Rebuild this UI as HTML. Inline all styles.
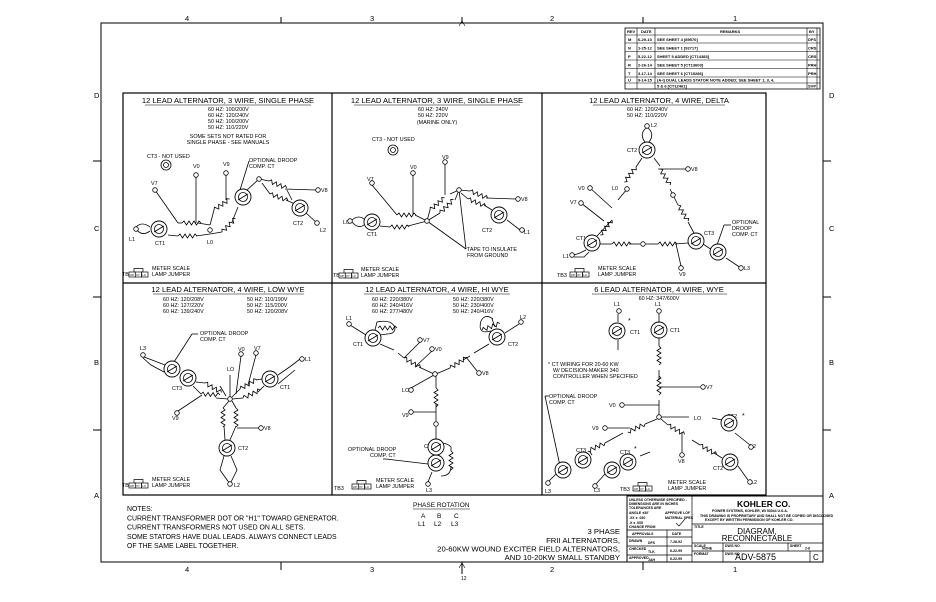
<!DOCTYPE html>
<html><head><meta charset="utf-8"><style>
html,body{margin:0;padding:0;background:#fff}
svg{display:block}
text{font-family:"Liberation Sans",sans-serif;fill:#000}
.t{font-size:7.6px}
.s{font-size:5.4px}
.n{font-size:7.5px}
</style></head><body>
<svg width="936" height="602" viewBox="0 0 936 602" xmlns="http://www.w3.org/2000/svg">
<defs>
<path id="coil" d="M0,0 l2,-2 l2.5,4 l2.5,-4 l2.5,4 l2.5,-4 l2.5,4 l2.5,-4 l2,2" fill="none" stroke="#000" stroke-width="0.8"/>
<g id="ct"><circle r="8" fill="#fff" stroke="#000" stroke-width="0.9"/><circle r="4.5" fill="none" stroke="#000" stroke-width="0.8"/><line x1="-5" y1="3" x2="5" y2="-3" stroke="#000" stroke-width="0.8"/></g>
<g id="tm"><circle r="2.3" fill="#fff" stroke="#000" stroke-width="0.8"/></g>
<g id="tb3"><rect x="0" y="0" width="6.3" height="5" fill="#fff" stroke="#000" stroke-width="0.7"/><rect x="6.3" y="0" width="6.3" height="5" fill="#fff" stroke="#000" stroke-width="0.7"/><rect x="12.6" y="0" width="6.4" height="5" fill="#fff" stroke="#000" stroke-width="0.7"/><polyline points="5,0 5,-3.5 14,-3.5 14,0" fill="none" stroke="#000" stroke-width="0.7"/><text x="0.8" y="3.9" style="font-size:3px">UP</text><text x="7" y="3.9" style="font-size:3px">V7</text><text x="13.3" y="3.9" style="font-size:3px">L0</text></g>
</defs>
<g fill="none" stroke="#000">
<rect x="101" y="23" width="722" height="539" stroke-width="1"/>
<line x1="281" y1="17" x2="281" y2="23"/><line x1="643" y1="17" x2="643" y2="23"/>
<line x1="281" y1="562" x2="281" y2="570"/><line x1="643" y1="562" x2="643" y2="570"/><line x1="462" y1="562" x2="462" y2="574"/><line x1="462" y1="17" x2="462" y2="23"/>
<line x1="93" y1="161" x2="101" y2="161"/><line x1="93" y1="297" x2="101" y2="297"/><line x1="93" y1="430" x2="101" y2="430"/>
<line x1="823" y1="161" x2="831" y2="161"/><line x1="823" y1="297" x2="831" y2="297"/><line x1="823" y1="430" x2="831" y2="430"/>
<rect x="123" y="93" width="643" height="402" stroke-width="1.2"/>
<line x1="332" y1="93" x2="332" y2="495" stroke-width="1.2"/>
<line x1="542" y1="93" x2="542" y2="495" stroke-width="1.2"/>
<line x1="123" y1="283" x2="766" y2="283" stroke-width="1.2"/>
<rect x="625" y="28" width="195" height="61" stroke-width="0.8"/>
<g stroke-width="0.6">
<line x1="625" y1="35" x2="820" y2="35"/><line x1="625" y1="43" x2="820" y2="43"/><line x1="625" y1="51.5" x2="820" y2="51.5"/><line x1="625" y1="60" x2="820" y2="60"/><line x1="625" y1="68.5" x2="820" y2="68.5"/><line x1="625" y1="77" x2="820" y2="77"/><line x1="625" y1="83" x2="820" y2="83"/>
<line x1="637" y1="28" x2="637" y2="89"/><line x1="655" y1="28" x2="655" y2="89"/><line x1="807" y1="28" x2="807" y2="89"/><line x1="817" y1="28" x2="817" y2="89"/>
</g>
<rect x="627" y="496" width="196" height="66" stroke-width="1"/>
<g stroke-width="0.7">
<line x1="692" y1="496" x2="692" y2="562"/>
<line x1="627" y1="530" x2="692" y2="530"/><line x1="627" y1="537" x2="692" y2="537"/><line x1="627" y1="546" x2="692" y2="546"/><line x1="627" y1="555" x2="692" y2="555"/><line x1="667" y1="530" x2="667" y2="562"/>
<line x1="692" y1="524" x2="823" y2="524"/><line x1="692" y1="543" x2="823" y2="543"/><line x1="692" y1="551" x2="823" y2="551"/>
<line x1="723" y1="543" x2="723" y2="562"/><line x1="788" y1="543" x2="788" y2="551"/><line x1="810" y1="551" x2="810" y2="562"/>
</g>
</g>
<g class="n">
<text x="185" y="21">4</text><text x="370" y="21">3</text><text x="550" y="21">2</text><text x="733" y="21">1</text>
<text x="185" y="572">4</text><text x="370" y="572">3</text><text x="550" y="572">2</text><text x="733" y="572">1</text>
<text x="94" y="98">D</text><text x="94" y="231">C</text><text x="94" y="365">B</text><text x="94" y="498">A</text>
<text x="829" y="98">D</text><text x="829" y="231">C</text><text x="829" y="365">B</text><text x="829" y="498">A</text>
</g>
<text x="461" y="580" style="font-size:5px" fill="#c60">12</text>
<path d="M459,26 l3,-5 l3,5" fill="none" stroke="#000" stroke-width="0.6"/>
<path d="M459,568 l3,-5 l3,5" fill="none" stroke="#000" stroke-width="0.6"/>
<g style="font-size:4px" font-weight="bold">
<text x="627" y="33">REV</text><text x="641" y="33">DATE</text><text x="720" y="33">REMARKS</text><text x="809" y="33">BY</text>
<text x="628" y="41">M</text><text x="638" y="41">6-29-10</text><text x="657" y="41">SEE SHEET 4 [89570]</text><text x="808" y="41">DFS</text>
<text x="628" y="49.5">N</text><text x="638" y="49.5">1-25-12</text><text x="657" y="49.5">SEE SHEET 1 [92717]</text><text x="808" y="49.5">CRS</text>
<text x="628" y="58">P</text><text x="638" y="58">5-22-12</text><text x="657" y="58">SHEET 5 ADDED [CT14383]</text><text x="808" y="58">CRS</text>
<text x="628" y="66.5">R</text><text x="638" y="66.5">2-26-14</text><text x="657" y="66.5">SEE SHEET 5 [CT13603]</text><text x="808" y="66.5">PRH</text>
<text x="628" y="75">T</text><text x="638" y="75">3-17-14</text><text x="657" y="75">SEE SHEET 6 [CT15286]</text><text x="808" y="75">PRH</text>
<text x="628" y="81.5">U</text><text x="638" y="81.5">9-14-15</text><text x="657" y="81.5">(A-I) DUAL LEADS STATOR NOTE ADDED; SEE SHEET 1, 3, 4,</text>
<text x="657" y="87.5">5 &amp; 6 [CT12461]</text><text x="808" y="87.5">SVP</text>
</g>
<g style="font-size:3.5px" font-weight="bold">
<text x="629" y="501">UNLESS OTHERWISE SPECIFIED -</text><text x="629" y="505">DIMENSIONS ARE IN INCHES</text><text x="629" y="509">TOLERANCES ARE</text>
<text x="629" y="514">ANGLE ±30'</text><text x="665" y="514">APPROVE LOF</text><text x="629" y="519">.XX ± .030</text><text x="665" y="519">MATERIAL SPEC</text>
<text x="629" y="524">.X ± .005</text><text x="629" y="528">CHANGE FROM</text>
<text x="632" y="535">APPROVALS</text><text x="672" y="535">DATE</text>
<text x="629" y="542">DRAWN</text><text x="648" y="544">DFS</text><text x="670" y="543">7-28-92</text>
<text x="629" y="550">CHECKED</text><text x="648" y="553">TLK</text><text x="670" y="552">6-22-99</text>
<text x="629" y="559">APPROVED</text><text x="648" y="561">JAH</text><text x="670" y="560">6-22-99</text>
<text x="694" y="528">TITLE</text><text x="694" y="547">SCALE</text><text x="702" y="549.5">NONE</text><text x="725" y="547">DWG NO</text><text x="790" y="547">SHEET</text><text x="805" y="549.5">2-6</text>
<text x="694" y="555">FORMAT</text><text x="725" y="555">DWG NO</text>
<text x="712" y="512">POWER SYSTEMS, KOHLER, WI 53044 U.S.A.</text>
<text x="700" y="517">THIS DRAWING IS PROPRIETARY AND SHALL NOT BE COPIED OR DISCLOSED</text>
<text x="705" y="521">EXCEPT BY WRITTEN PERMISSION OF KOHLER CO.</text>
</g>
<text x="737" y="507" style="font-size:8.5px" font-weight="bold">KOHLER CO.</text>
<path d="M676,523 l3,3 l6,-7" fill="none" stroke="#000" stroke-width="0.6"/>
<text x="757" y="534" text-anchor="middle" style="font-size:8px">DIAGRAM,</text>
<text x="757" y="541" text-anchor="middle" style="font-size:8px">RECONNECTABLE</text>
<text x="735" y="560" style="font-size:9px">ADV-5875</text>
<text x="813" y="560" style="font-size:8px">C</text>

<g style="font-size:6.9px">
<text x="127" y="511">NOTES:</text>
<text x="127" y="520.5">CURRENT TRANSFORMER DOT OR "H1" TOWARD GENERATOR.</text>
<text x="127" y="529.5">CURRENT TRANSFORMERS NOT USED ON ALL SETS.</text>
<text x="127" y="539">SOME STATORS HAVE DUAL LEADS. ALWAYS CONNECT LEADS</text>
<text x="127" y="548">OF THE SAME LABEL TOGETHER.</text>
</g>
<g style="font-size:6.5px">
<text x="413" y="507">PHASE ROTATION</text>
<text x="421" y="518">A</text><text x="437" y="518">B</text><text x="454" y="518">C</text>
<text x="418" y="526">L1</text><text x="434" y="526">L2</text><text x="451" y="526">L3</text>
</g>
<line x1="413" y1="509" x2="470" y2="509" stroke="#000" stroke-width="0.6"/>
<g style="font-size:7.7px" text-anchor="end">
<text x="620" y="534">3 PHASE</text>
<text x="620" y="543">FRII ALTERNATORS,</text>
<text x="620" y="551.5">20-60KW WOUND EXCITER FIELD ALTERNATORS,</text>
<text x="620" y="560">AND 10-20KW SMALL STANDBY</text>
</g>

<g class="t" text-anchor="middle"><text x="228" y="103">12 LEAD ALTERNATOR, 3 WIRE, SINGLE PHASE</text>
<text x="437" y="103">12 LEAD ALTERNATOR, 3 WIRE, SINGLE PHASE</text>
<text x="659" y="103">12 LEAD ALTERNATOR, 4 WIRE, DELTA</text>
<text x="228" y="292">12 LEAD ALTERNATOR, 4 WIRE, LOW WYE</text>
<text x="437" y="292">12 LEAD ALTERNATOR, 4 WIRE, HI WYE</text>
<text x="659" y="292">6 LEAD ALTERNATOR, 4 WIRE, WYE</text></g>
<g stroke="#000" stroke-width="0.6">
<line x1="145" y1="105" x2="311" y2="105"/><line x1="354" y1="105" x2="520" y2="105"/><line x1="593" y1="105" x2="725" y2="105"/>
<line x1="153" y1="294" x2="304" y2="294"/><line x1="364" y1="294" x2="510" y2="294"/><line x1="592" y1="294" x2="727" y2="294"/>
</g>
<!-- PANEL 1 -->
<g class="s">
<text x="208" y="111">60 HZ: 100/200V</text><text x="208" y="117">60 HZ: 120/240V</text><text x="208" y="123">50 HZ: 100/200V</text><text x="208" y="129">50 HZ: 110/220V</text>
<text x="228" y="138" text-anchor="middle">SOME SETS NOT RATED FOR</text><text x="228" y="144" text-anchor="middle">SINGLE PHASE - SEE MANUALS</text>
<text x="147" y="158">CT3 - NOT USED</text>
<text x="249" y="162">OPTIONAL DROOP</text><text x="249" y="168">COMP. CT</text>
<text x="151" y="185">V7</text><text x="193" y="168">V0</text><text x="223" y="166">V9</text><text x="321" y="192">V8</text>
<text x="129" y="241">L1</text><text x="155" y="245">CT1</text><text x="207" y="244">L0</text><text x="293" y="225">CT2</text><text x="320" y="232">L2</text>
<text x="122" y="276">TB3</text><text x="152" y="270">METER SCALE</text><text x="152" y="276">LAMP JUMPER</text>
</g>
<use href="#tb3" x="129" y="272"/>
<g fill="none" stroke="#000" stroke-width="0.8">
<circle cx="166" cy="165" r="5"/><circle cx="166" cy="165" r="2.5"/>
<line x1="155" y1="190" x2="178" y2="223"/><line x1="196" y1="176" x2="196" y2="223"/>
<line x1="178" y1="223" x2="182" y2="223"/><line x1="198" y1="223" x2="210" y2="225"/>
<line x1="168" y1="235" x2="178" y2="236"/><line x1="196" y1="236" x2="210" y2="234"/>
<line x1="226" y1="174" x2="226" y2="200"/><line x1="210" y1="225" x2="214" y2="210"/>
<line x1="210" y1="234" x2="222" y2="232"/><line x1="232" y1="222" x2="238" y2="207"/>
<line x1="247" y1="190" x2="259" y2="179"/><line x1="259" y1="179" x2="269" y2="181"/>
<line x1="285" y1="189" x2="316" y2="190"/><line x1="262" y1="183" x2="270" y2="194"/><line x1="286" y1="200" x2="295" y2="204"/>
<line x1="287" y1="190" x2="292" y2="200"/><line x1="306" y1="213" x2="317" y2="223"/>
<line x1="249" y1="161" x2="240" y2="190"/>
<path d="M150,227 q-8,-6 -14,0 M150,231 q-8,6 -14,-2"/>
</g>
<use href="#coil" transform="translate(182,223)"/>
<use href="#coil" transform="translate(178,236)"/>
<use href="#coil" transform="translate(214,210) rotate(-35)"/>
<use href="#coil" transform="translate(222,232) rotate(-45)"/>
<use href="#coil" transform="translate(269,181) rotate(22)"/>
<use href="#coil" transform="translate(270,194) rotate(20)"/>
<use href="#ct" x="159" y="229"/><use href="#ct" x="243" y="197"/><use href="#ct" x="300" y="208"/>
<use href="#tm" x="155" y="190"/><use href="#tm" x="196" y="175"/><use href="#tm" x="226" y="173"/><use href="#tm" x="318" y="190"/>
<use href="#tm" x="136" y="229"/><use href="#tm" x="210" y="230"/><use href="#tm" x="259" y="179"/><use href="#tm" x="317" y="223"/>

<!-- PANEL 2 -->
<g class="s">
<text x="418" y="111">60 HZ: 240V</text><text x="418" y="117">50 HZ: 220V</text>
<text x="437" y="124" text-anchor="middle">(MARINE ONLY)</text>
<text x="372" y="141">CT3 - NOT USED</text>
<text x="367" y="181">V7</text><text x="410" y="169">V0</text><text x="442" y="159">V9</text><text x="521" y="201">V8</text>
<text x="343" y="224">L0</text><text x="367" y="236">CT1</text><text x="482" y="232">CT2</text><text x="524" y="234">L1</text>
<text x="467" y="251">TAPE TO INSULATE</text><text x="467" y="257">FROM GROUND</text>
<text x="333" y="277">TB3</text><text x="361" y="271">METER SCALE</text><text x="361" y="277">LAMP JUMPER</text>
</g>
<use href="#tb3" x="339" y="273"/>
<g fill="none" stroke="#000" stroke-width="0.8">
<circle cx="393" cy="150" r="5"/><circle cx="393" cy="150" r="2.5"/>
<line x1="372" y1="185" x2="397" y2="215"/><line x1="413" y1="175" x2="413" y2="215"/>
<line x1="415" y1="215" x2="427" y2="221"/><line x1="380" y1="226" x2="390" y2="227"/><line x1="408" y1="226" x2="427" y2="221"/>
<line x1="427" y1="221" x2="430" y2="210"/><line x1="445" y1="164" x2="445" y2="195"/><line x1="450" y1="194" x2="459" y2="190"/>
<line x1="427" y1="221" x2="440" y2="213"/><line x1="455" y1="200" x2="459" y2="190"/>
<line x1="459" y1="190" x2="470" y2="191"/><line x1="486" y1="198" x2="516" y2="199"/>
<line x1="461" y1="193" x2="468" y2="199"/><line x1="484" y1="205" x2="492" y2="210"/>
<line x1="507" y1="220" x2="520" y2="230"/>
<line x1="427" y1="221" x2="466" y2="249"/><line x1="459" y1="190" x2="466" y2="249"/>
<path d="M365,220 q-6,-6 -13,0 M365,224 q-6,6 -13,-2"/>
</g>
<use href="#coil" transform="translate(397,215)"/>
<use href="#coil" transform="translate(390,227)"/>
<use href="#coil" transform="translate(430,210) rotate(-40)"/>
<use href="#coil" transform="translate(440,213) rotate(-45)"/>
<use href="#coil" transform="translate(470,191) rotate(22)"/>
<use href="#coil" transform="translate(468,199) rotate(22)"/>
<use href="#ct" x="372" y="222"/><use href="#ct" x="499" y="215"/>
<use href="#tm" x="372" y="183"/><use href="#tm" x="413" y="173"/><use href="#tm" x="445" y="162"/><use href="#tm" x="518" y="199"/>
<use href="#tm" x="350" y="221"/><use href="#tm" x="427" y="221"/><use href="#tm" x="459" y="190"/><use href="#tm" x="522" y="230"/>

<!-- PANEL 3 -->
<g class="s">
<text x="627" y="111">60 HZ: 120/240V</text><text x="627" y="117">50 HZ: 110/220V</text>
<text x="651" y="127">L2</text><text x="627" y="152">CT2</text><text x="691" y="171">V8</text>
<text x="578" y="190">V0</text><text x="570" y="204">V7</text><text x="612" y="190">L0</text>
<text x="576" y="240">CT1</text><text x="704" y="235">CT3</text><text x="563" y="258">L1</text><text x="744" y="270">L3</text>
<text x="679" y="276">V9</text>
<text x="732" y="224">OPTIONAL</text><text x="732" y="230">DROOP</text><text x="732" y="236">COMP. CT</text>
<text x="557" y="277">TB3</text><text x="598" y="270">METER SCALE</text><text x="598" y="276">LAMP JUMPER</text>
</g>
<use href="#tb3" x="570" y="272"/>
<g fill="none" stroke="#000" stroke-width="0.8">
<path d="M645,142 q-6,-8 1,-14 M649,142 q6,-8 -1,-14"/>
<line x1="642" y1="158" x2="636" y2="167"/><line x1="627" y1="189" x2="618" y2="200"/><line x1="612" y1="220" x2="597" y2="236"/>
<line x1="590" y1="188" x2="612" y2="208"/><line x1="581" y1="203" x2="604" y2="221"/>
<line x1="654" y1="158" x2="660" y2="166"/><line x1="658" y1="169" x2="686" y2="169"/><line x1="670" y1="189" x2="673" y2="195"/>
<line x1="673" y1="195" x2="678" y2="205"/><line x1="688" y1="222" x2="694" y2="233"/>
<line x1="600" y1="244" x2="612" y2="244"/><line x1="629" y1="244" x2="640" y2="244"/><line x1="646" y1="244" x2="658" y2="244"/><line x1="675" y1="244" x2="688" y2="243"/>
<line x1="676" y1="244" x2="681" y2="266"/>
<line x1="703" y1="244" x2="712" y2="250"/><line x1="726" y1="258" x2="741" y2="268"/>
<line x1="731" y1="225" x2="724" y2="225"/><line x1="724" y1="225" x2="716" y2="248"/>
<path d="M586,250 l-6,3 l-6,2 M589,252 l-5,5 l-10,0"/>
</g>
<use href="#coil" transform="translate(636,167) rotate(128)"/>
<use href="#coil" transform="translate(612,220) rotate(128)"/>
<use href="#coil" transform="translate(660,169) rotate(58)"/>
<use href="#coil" transform="translate(678,205) rotate(58)"/>
<use href="#coil" transform="translate(612,244)"/>
<use href="#coil" transform="translate(658,244)"/>
<use href="#ct" x="647" y="150"/><use href="#ct" x="592" y="243"/><use href="#ct" x="696" y="241"/><use href="#ct" x="718" y="252"/>
<use href="#tm" x="647" y="126"/><use href="#tm" x="688" y="169"/><use href="#tm" x="590" y="188"/><use href="#tm" x="581" y="203"/>
<use href="#tm" x="627" y="189"/><use href="#tm" x="673" y="195"/><use href="#tm" x="643" y="244"/><use href="#tm" x="681" y="268"/>
<use href="#tm" x="572" y="255"/><use href="#tm" x="741" y="268"/>

<!-- PANEL 4 -->
<g class="s">
<text x="163" y="301">60 HZ: 120/208V</text><text x="163" y="307">60 HZ: 127/220V</text><text x="163" y="313">60 HZ: 139/240V</text>
<text x="247" y="301">50 HZ: 110/190V</text><text x="247" y="307">50 HZ: 115/200V</text><text x="247" y="313">50 HZ: 120/208V</text>
<text x="200" y="335">OPTIONAL DROOP</text><text x="200" y="341">COMP. CT</text>
<text x="140" y="350">L3</text><text x="238" y="351">V0</text><text x="254" y="350">V7</text><text x="305" y="361">L1</text>
<text x="227" y="371">LO</text><text x="172" y="390">CT3</text><text x="280" y="389">CT1</text>
<text x="172" y="420">V9</text><text x="264" y="430">V8</text><text x="238" y="450">CT2</text><text x="234" y="487">L2</text>
<text x="122" y="487">TB3</text><text x="152" y="481">METER SCALE</text><text x="152" y="487">LAMP JUMPER</text>
</g>
<use href="#tb3" x="129" y="483"/>
<g fill="none" stroke="#000" stroke-width="0.8">
<line x1="198" y1="334" x2="192" y2="334"/><line x1="192" y1="334" x2="174" y2="362"/>
<path d="M144,357 l8,3 l13,5 M143,358 l8,7 l13,7"/>
<line x1="196" y1="382" x2="205" y2="383"/><line x1="220" y1="386" x2="226" y2="396"/>
<line x1="193" y1="386" x2="201" y2="394"/><line x1="216" y1="398" x2="228" y2="399"/>
<line x1="230" y1="375" x2="230" y2="399"/>
<line x1="241" y1="356" x2="236" y2="394"/><line x1="256" y1="355" x2="248" y2="385"/>
<line x1="232" y1="397" x2="240" y2="389"/><line x1="256" y1="380" x2="262" y2="379"/>
<line x1="232" y1="399" x2="243" y2="398"/><line x1="258" y1="392" x2="264" y2="386"/>
<line x1="278" y1="375" x2="291" y2="366"/><line x1="291" y1="366" x2="300" y2="359"/><line x1="278" y1="384" x2="295" y2="370"/>
<line x1="202" y1="395" x2="178" y2="411"/>
<line x1="229" y1="401" x2="223" y2="408"/><line x1="224" y1="426" x2="225" y2="440"/>
<line x1="232" y1="401" x2="236" y2="408"/><line x1="236" y1="426" x2="230" y2="440"/>
<line x1="237" y1="428" x2="259" y2="428"/>
<path d="M224,456 l-4,14 l10,14 M231,456 l6,14 l-7,14"/>
</g>
<use href="#coil" transform="translate(205,383) rotate(30)"/>
<use href="#coil" transform="translate(201,394) rotate(3)"/>
<use href="#coil" transform="translate(240,389) rotate(-30)"/>
<use href="#coil" transform="translate(243,398) rotate(-25)"/>
<use href="#coil" transform="translate(223,408) rotate(90)"/>
<use href="#coil" transform="translate(236,408) rotate(90)"/>
<use href="#ct" x="172" y="369"/><use href="#ct" x="188" y="378"/><use href="#ct" x="270" y="379"/><use href="#ct" x="227" y="448"/>
<use href="#tm" x="143" y="355"/><use href="#tm" x="241" y="354"/><use href="#tm" x="256" y="353"/><use href="#tm" x="302" y="359"/>
<use href="#tm" x="230" y="399"/><use href="#tm" x="177" y="413"/><use href="#tm" x="261" y="428"/><use href="#tm" x="230" y="484"/>

<!-- PANEL 5 -->
<g class="s">
<text x="372" y="301">60 HZ: 220/380V</text><text x="372" y="307">60 HZ: 240/416V</text><text x="372" y="313">60 HZ: 277/480V</text>
<text x="453" y="301">50 HZ: 220/380V</text><text x="453" y="307">50 HZ: 230/400V</text><text x="453" y="313">50 HZ: 240/416V</text>
<text x="346" y="320">L1</text><text x="520" y="319">L2</text><text x="353" y="346">CT1</text><text x="508" y="346">CT2</text>
<text x="423" y="342">V7</text><text x="435" y="351">V0</text><text x="482" y="375">V8</text><text x="402" y="392">LO</text><text x="402" y="417">V9</text>
<text x="424" y="448">CT3</text><text x="348" y="451">OPTIONAL DROOP</text><text x="370" y="457">COMP. CT</text><text x="426" y="492">L3</text>
<text x="334" y="490">TB3</text><text x="376" y="482">METER SCALE</text><text x="376" y="488">LAMP JUMPER</text>
</g>
<use href="#tb3" x="352" y="484"/>
<g fill="none" stroke="#000" stroke-width="0.8">
<line x1="350" y1="325" x2="366" y2="335"/><path d="M375,330 l2,-8 q15,-3 18,6 q0,6 -8,6 l-7,1"/>
<line x1="380" y1="344" x2="394" y2="350"/><line x1="398" y1="353" x2="404" y2="358"/><line x1="419" y1="367" x2="434" y2="374"/>
<line x1="420" y1="342" x2="404" y2="358"/><line x1="432" y1="351" x2="416" y2="366"/>
<line x1="436" y1="374" x2="450" y2="368"/><line x1="463" y1="360" x2="470" y2="356"/><line x1="474" y1="353" x2="489" y2="344"/>
<line x1="466" y1="357" x2="477" y2="371"/><line x1="505" y1="333" x2="519" y2="324"/>
<path d="M491,331 q-14,4 -10,-10 q4,-8 12,-2 M495,327 l-3,-8"/>
<line x1="434" y1="375" x2="411" y2="388"/>
<line x1="436" y1="376" x2="436" y2="388"/><line x1="436" y1="404" x2="436" y2="421"/><line x1="413" y1="412" x2="436" y2="412"/>
<line x1="436" y1="427" x2="436" y2="440"/>
<path d="M441,443 q6,0 10,4 l0,4 M451,466 q0,10 -10,10"/>
<line x1="383" y1="459" x2="386" y2="459"/><line x1="386" y1="459" x2="428" y2="464"/>
<path d="M432,472 l-4,10"/>
</g>
<use href="#coil" transform="translate(404,358) rotate(30)"/>
<use href="#coil" transform="translate(450,368) rotate(-32)"/>
<use href="#coil" transform="translate(436,388) rotate(90)"/>
<use href="#coil" transform="translate(451,451) rotate(90)"/>
<use href="#coil" transform="translate(378,328) rotate(0)"/>
<use href="#coil" transform="translate(482,330) rotate(-20)"/>
<use href="#ct" x="373" y="338"/><use href="#ct" x="497" y="337"/><use href="#ct" x="436" y="463"/><use href="#ct" x="436" y="447"/>
<use href="#tm" x="349" y="324"/><use href="#tm" x="521" y="322"/><use href="#tm" x="420" y="340"/><use href="#tm" x="432" y="349"/>
<use href="#tm" x="479" y="373"/><use href="#tm" x="411" y="390"/><use href="#tm" x="435" y="374"/><use href="#tm" x="411" y="412"/><use href="#tm" x="436" y="424"/><use href="#tm" x="428" y="484"/>

<!-- PANEL 6 -->
<g class="s">
<text x="659" y="300" text-anchor="middle">60 HZ: 347/600V</text>
<text x="614" y="306">L1</text><text x="655" y="306">L1</text><text x="628" y="323" style="font-size:7px">*</text>
<text x="630" y="334">CT1</text><text x="670" y="332">CT1</text>
<text x="548" y="366">* CT WIRING FOR 20-60 KW</text><text x="553" y="372">W/ DECISION-MAKER 340</text><text x="553" y="378">CONTROLLER WHEN SPECIFIED</text>
<text x="549" y="398">OPTIONAL DROOP</text><text x="549" y="404">COMP. CT</text>
<text x="706" y="389">V7</text><text x="609" y="407">V0</text><text x="694" y="420">LO</text><text x="592" y="430">V9</text>
<text x="727" y="418">CT2</text><text x="742" y="418" style="font-size:7px">*</text><text x="750" y="448">L2</text>
<text x="576" y="452">CT3</text><text x="620" y="454">CT3</text><text x="634" y="451" style="font-size:7px">*</text>
<text x="678" y="463">V8</text><text x="713" y="470">CT2</text><text x="751" y="484">L2</text>
<text x="545" y="493">L3</text><text x="594" y="492">L3</text>
<text x="620" y="491">TB3</text><text x="668" y="484">METER SCALE</text><text x="668" y="490">LAMP JUMPER</text>
</g>
<use href="#tb3" x="633" y="486"/>
<g fill="none" stroke="#000" stroke-width="0.8">
<line x1="618" y1="314" x2="618" y2="322"/><line x1="618" y1="340" x2="618" y2="350"/>
<line x1="659" y1="314" x2="659" y2="322"/><line x1="659" y1="338" x2="659" y2="346"/>
<line x1="659" y1="370" x2="659" y2="380"/><line x1="659" y1="387" x2="700" y2="387"/><line x1="625" y1="405" x2="659" y2="405"/>
<line x1="659" y1="400" x2="659" y2="416"/><line x1="661" y1="417" x2="689" y2="417"/>
<line x1="657" y1="419" x2="645" y2="424"/><line x1="608" y1="428" x2="630" y2="428"/>
<line x1="623" y1="433" x2="605" y2="443"/><line x1="590" y1="452" x2="592" y2="455"/>
<line x1="661" y1="419" x2="668" y2="425"/><line x1="682" y1="432" x2="682" y2="452"/>
<line x1="692" y1="440" x2="700" y2="445"/><line x1="714" y1="453" x2="722" y2="458"/>
<line x1="738" y1="466" x2="748" y2="480"/>
<line x1="549" y1="396" x2="545" y2="396"/><line x1="545" y1="396" x2="560" y2="466"/>
<line x1="556" y1="474" x2="549" y2="481"/><line x1="605" y1="474" x2="596" y2="484"/>
<line x1="640" y1="456" x2="650" y2="452"/>
<line x1="735" y1="433" x2="750" y2="445"/><line x1="722" y1="420" x2="712" y2="418"/>
</g>
<use href="#coil" transform="translate(659,346) rotate(90)"/>
<use href="#coil" transform="translate(659,376) rotate(90)"/>
<use href="#coil" transform="translate(645,424) rotate(155)"/>
<use href="#coil" transform="translate(605,443) rotate(155)"/>
<use href="#coil" transform="translate(668,425) rotate(30)"/>
<use href="#coil" transform="translate(700,445) rotate(30)"/>
<use href="#ct" x="617" y="331"/><use href="#ct" x="659" y="330"/>
<use href="#ct" x="583" y="460"/><use href="#ct" x="563" y="470"/><use href="#ct" x="628" y="462"/><use href="#ct" x="612" y="470"/>
<use href="#ct" x="729" y="423"/><use href="#ct" x="730" y="462"/>
<use href="#tm" x="619" y="311"/><use href="#tm" x="659" y="311"/><use href="#tm" x="703" y="387"/><use href="#tm" x="622" y="405"/>
<use href="#tm" x="659" y="417"/><use href="#tm" x="605" y="428"/><use href="#tm" x="682" y="455"/>
<use href="#tm" x="548" y="483"/><use href="#tm" x="595" y="486"/><use href="#tm" x="751" y="447"/><use href="#tm" x="750" y="482"/>
</svg>
</body></html>
